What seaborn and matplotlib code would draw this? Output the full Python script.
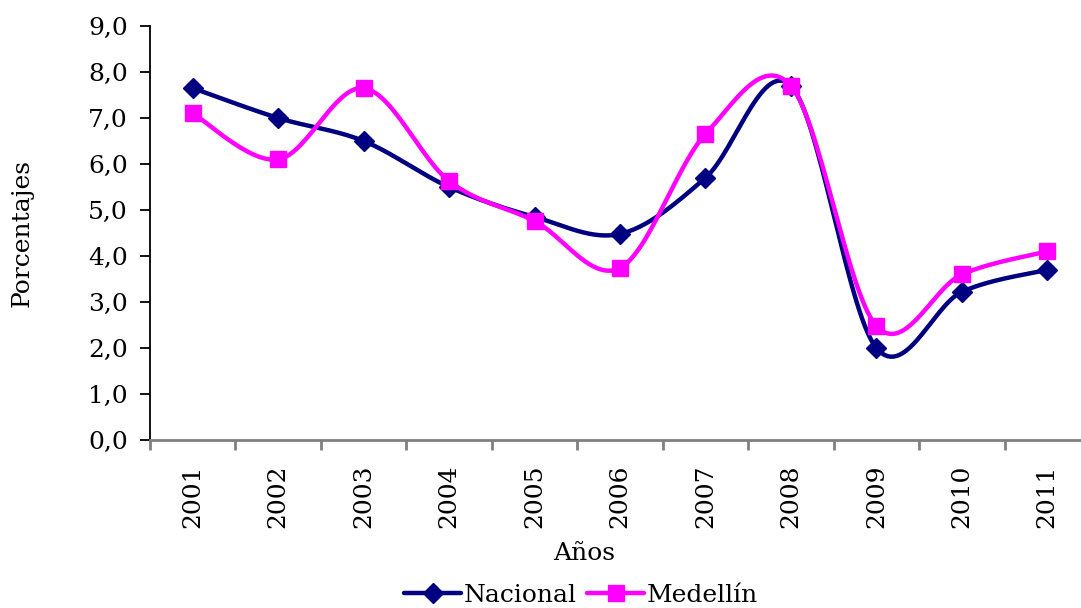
import numpy as np
import pandas as pd
import matplotlib
matplotlib.use("Agg")
import matplotlib.pyplot as plt
from matplotlib.lines import Line2D
from matplotlib.ticker import FuncFormatter
import seaborn as sns

years = ["2001", "2002", "2003", "2004", "2005", "2006", "2007", "2008", "2009", "2010", "2011"]
nacional = [7.65, 7.0, 6.5, 5.5, 4.85, 4.48, 5.7, 7.7, 2.0, 3.22, 3.7]
medellin = [7.1, 6.1, 7.65, 5.63, 4.76, 3.74, 6.65, 7.7, 2.48, 3.6, 4.1]

NAVY = "#000080"
MAGENTA = "#FF00FF"
FS = 18


def smooth(xs, ys, steps=30):
    # Excel-style smoothed line: cubic Bezier segments with Catmull-Rom control points
    xs = np.asarray(xs, float)
    ys = np.asarray(ys, float)
    n = len(xs)
    px, py = [], []
    for i in range(n - 1):
        x0, y0 = xs[max(i - 1, 0)], ys[max(i - 1, 0)]
        x1, y1 = xs[i], ys[i]
        x2, y2 = xs[i + 1], ys[i + 1]
        x3, y3 = xs[min(i + 2, n - 1)], ys[min(i + 2, n - 1)]
        c1x, c1y = x1 + (x2 - x0) / 6, y1 + (y2 - y0) / 6
        c2x, c2y = x2 - (x3 - x1) / 6, y2 - (y3 - y1) / 6
        t = np.linspace(0, 1, steps, endpoint=(i == n - 2))
        a, b, c, d = (1 - t) ** 3, 3 * t * (1 - t) ** 2, 3 * t ** 2 * (1 - t), t ** 3
        px.extend(a * x1 + b * c1x + c * c2x + d * x2)
        py.extend(a * y1 + b * c1y + c * c2y + d * y2)
    return np.array(px), np.array(py)


sns.set_style("white")
plt.rcParams["font.family"] = ["DejaVu Serif"]
plt.rcParams["text.color"] = "black"
plt.rcParams["axes.labelcolor"] = "black"
plt.rcParams["xtick.color"] = "black"
plt.rcParams["ytick.color"] = "black"

fig = plt.figure(figsize=(10.81, 6.08), dpi=100)
# axes runs a little past the right edge, like the source
ax = fig.add_axes([150 / 1081, 1 - 440 / 608, 940 / 1081, 414 / 608])

xpos = np.arange(len(years))
for vals, color, marker, ms in [(nacional, NAVY, "D", 10), (medellin, MAGENTA, "s", 11)]:
    sx, sy = smooth(xpos, vals)
    curve = pd.DataFrame({"x": sx, "y": sy})
    sns.lineplot(data=curve, x="x", y="y", sort=False, color=color, linewidth=3.2, ax=ax)
    ax.plot(xpos, vals, linestyle="none", marker=marker, markersize=ms, color=color)

ax.set_xlim(-0.5, len(years) - 0.5)
ax.set_ylim(0, 9)
ax.set_yticks(np.arange(0, 10, 1))
ax.yaxis.set_major_formatter(FuncFormatter(lambda v, p: f"{v:.1f}".replace(".", ",")))
ax.set_xticks(xpos)
ax.set_xticklabels(years, rotation=90)
ax.set_xticks(np.arange(-0.5, len(years), 1), minor=True)

for s in ["top", "right"]:
    ax.spines[s].set_visible(False)
ax.spines["left"].set_color("black")
ax.spines["left"].set_linewidth(1.3)
ax.spines["bottom"].set_color("#808080")
ax.spines["bottom"].set_linewidth(2)

ax.tick_params(axis="y", which="major", direction="out", length=7, width=1.3, color="black",
               labelsize=FS, pad=9, left=True)
ax.tick_params(axis="x", which="major", length=0, labelsize=FS, pad=18)
ax.tick_params(axis="x", which="minor", direction="out", length=7, width=2, color="#808080", bottom=True)

ax.set_xlabel("Años", fontsize=FS)
ax.xaxis.set_label_coords((584 - 150) / 940, -(542 - 440) / 414)
ax.set_ylabel("Porcentajes", fontsize=FS)
ax.yaxis.set_label_coords((34 - 150) / 940, 0.5)

handles = [
    Line2D([], [], color=NAVY, linewidth=3.2, marker="D", markersize=10),
    Line2D([], [], color=MAGENTA, linewidth=3.2, marker="s", markersize=11),
]
fig.legend(handles, ["Nacional", "Medellín"], loc="center", bbox_to_anchor=(581 / 1081, 1 - 595 / 608),
           ncol=2, frameon=False, fontsize=FS, handlelength=2.3, handletextpad=0.1, columnspacing=0.4,
           borderpad=0)

fig.savefig("out.png", dpi=100)
